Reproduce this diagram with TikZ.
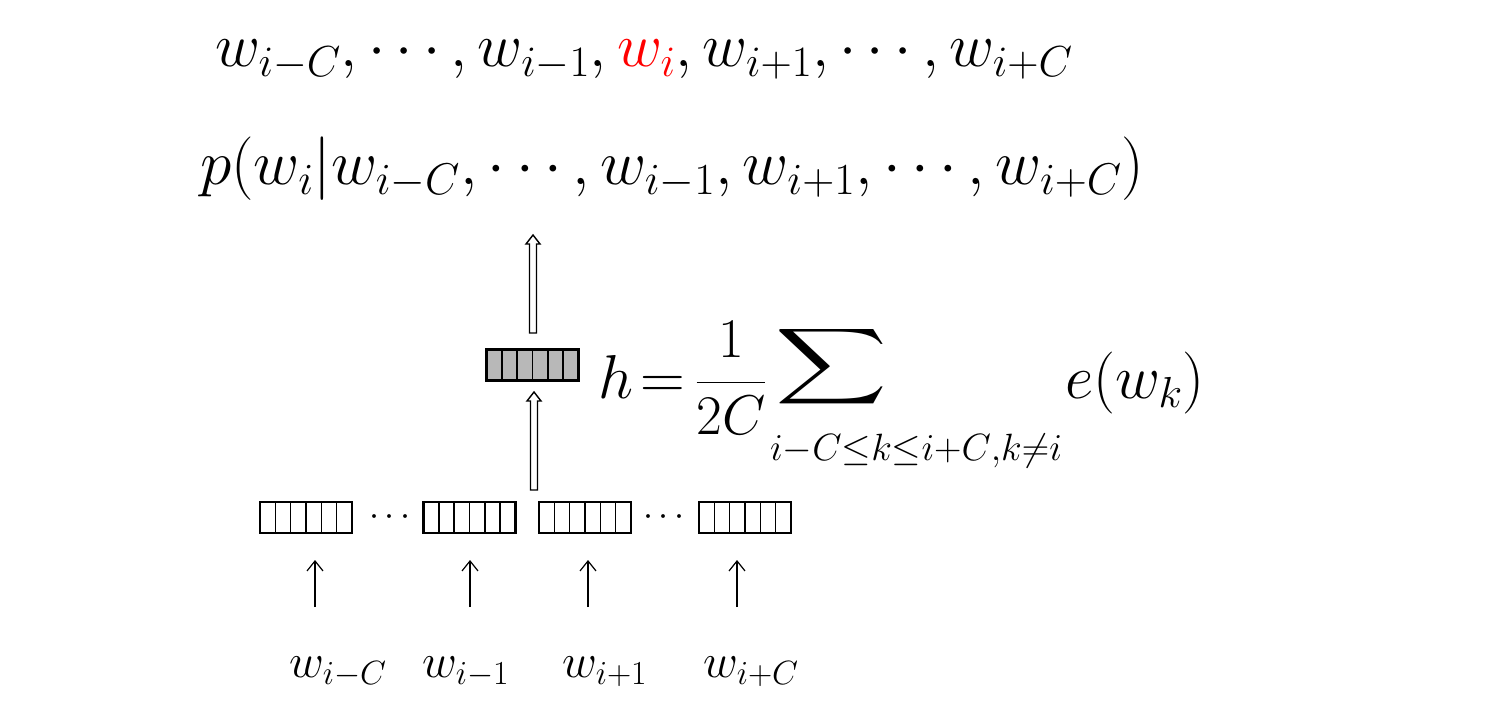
\RequirePackage{fix-cm}
\documentclass[tikz,border=0pt]{standalone}
\usetikzlibrary{calc,arrows.meta}
\tikzset{
  vecbox/.style={draw, line width=2.4pt, minimum width=92pt, minimum height=31pt, inner sep=0pt,
    path picture={\foreach \k in {1,...,5}{\draw[line width=1.4pt] ($(path picture bounding box.south west)!\k/6!(path picture bounding box.south east)$) -- ++(0,40pt);}}},
  bigtxt/.style={inner sep=0pt, anchor=base west, font=\fontsize{62}{70}\selectfont},
  labtxt/.style={inner sep=0pt, anchor=base west, font=\fontsize{48}{54}\selectfont},
  subtxt/.style={inner sep=0pt, anchor=base west, font=\fontsize{38}{44}\selectfont},
  dotstxt/.style={inner sep=0pt, font=\fontsize{36}{40}\selectfont},
  thinarrow/.style={line width=1.2pt, -{Straight Barb[length=10pt,width=16pt,line width=1.2pt]}},
  hollow/.style={draw, line width=1.4pt, fill=white, line join=miter},
}
\begin{document}
\begin{tikzpicture}[x=1pt,y=-1pt]
\useasboundingbox (0,0) rectangle (1506,719);
% top lines
\node[bigtxt] (seq) at (215,67) {$w_{i-C},\cdots,w_{i-1},\textcolor{red}{w_i},w_{i+1},\cdots,w_{i+C}$};
\node[bigtxt, font=\fontsize{63.5}{70}\selectfont] (prob) at (200,185) {$p(w_i|w_{i-C},\cdots,w_{i-1},w_{i+1},\cdots,w_{i+C})$};
% hidden vector
\node[vecbox, fill=black!28] (hid) at (532.5,365) {};
% formula
\node[bigtxt] (hdef) at (598,398) {$h\mkern2mu{=}$};
\node[inner sep=0pt, font=\fontsize{56}{62}\selectfont] (frac) at (731,378) {$\displaystyle\frac{1}{2C}$};
\node[inner sep=0pt] (sum) at (832,367) {\resizebox*{112pt}{85pt}{$\displaystyle\sum$}};
\node[subtxt] (sumsub) at (770,460) {$i{-}C{\le}k{\le}i{+}C{,}k{\neq}i$};
\node[bigtxt] (ew) at (1065,398) {$e(w_k)$};
% input vectors
\node[vecbox] (b1) at (306,517.5) {};
\node[vecbox] (b2) at (469.5,517.5) {};
\node[vecbox] (b3) at (585,517.5) {};
\node[vecbox] (b4) at (745,517.5) {};
\node[dotstxt] (d1) at (390,517) {$\cdots$};
\node[dotstxt] (d2) at (664,517) {$\cdots$};
% labels
\node[labtxt] (l1) at (289,677) {$w_{i-C}$};
\node[labtxt] (l2) at (422,677) {$w_{i-1}$};
\node[labtxt] (l3) at (562,677) {$w_{i+1}$};
\node[labtxt] (l4) at (703,677) {$w_{i+C}$};
% thin arrows
\coordinate (a1s) at (315,607); \coordinate (a1e) at (315,560);
\coordinate (a2s) at (470,607); \coordinate (a2e) at (470,560);
\coordinate (a3s) at (588,607); \coordinate (a3e) at (588,560);
\coordinate (a4s) at (737,607); \coordinate (a4e) at (737,560);
\foreach \i in {1,...,4}{\draw[thinarrow] (a\i s) -- (a\i e);}
% hollow arrows
\coordinate (h1s) at (534,490); \coordinate (h1e) at (534,392);
\coordinate (h2s) at (533,333); \coordinate (h2e) at (533,235);
\foreach \i in {1,2}{
  \draw[hollow] ($(h\i s)+(-3.5,0)$) -- ($(h\i e)+(-3.5,9)$) -- ($(h\i e)+(-7,9)$) -- (h\i e)
     -- ($(h\i e)+(7,9)$) -- ($(h\i e)+(3.5,9)$) -- ($(h\i s)+(3.5,0)$) -- cycle;
}
\end{tikzpicture}
\end{document}
